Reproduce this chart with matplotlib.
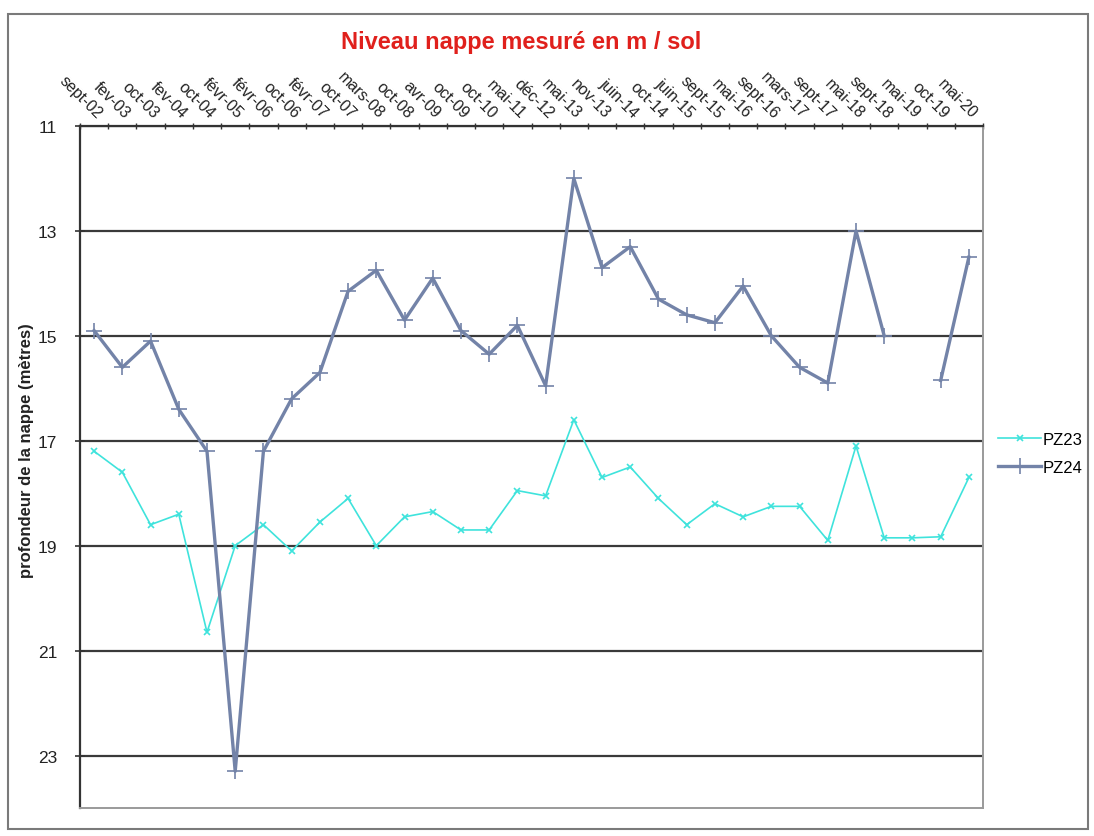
import matplotlib.pyplot as plt
import numpy as np
from matplotlib.patches import Rectangle

# categories (dates de mesure)
dates = ['sept-02', 'fev-03', 'oct-03', 'fev-04', 'oct-04', 'févr-05', 'févr-06',
         'oct-06', 'févr-07', 'oct-07', 'mars-08', 'oct-08', 'avr-09', 'oct-09',
         'oct-10', 'mai-11', 'déc-12', 'mai-13', 'nov-13', 'juin-14', 'oct-14',
         'juin-15', 'sept-15', 'mai-16', 'sept-16', 'mars-17', 'sept-17', 'mai-18',
         'sept-18', 'mai-19', 'oct-19', 'mai-20']

pz23 = [17.2, 17.6, 18.6, 18.4, 20.65, 19.0, 18.6, 19.1, 18.55, 18.1, 19.0,
        18.45, 18.35, 18.7, 18.7, 17.95, 18.05, 16.6, 17.7, 17.5, 18.1, 18.6,
        18.2, 18.45, 18.25, 18.25, 18.9, 17.1, 18.85, 18.85, 18.83, 17.7]

pz24 = [14.9, 15.6, 15.1, 16.4, 17.2, 23.3, 17.2, 16.2, 15.7, 14.15, 13.75,
        14.7, 13.9, 14.9, 15.35, 14.8, 15.95, 12.0, 13.7, 13.3, 14.3, 14.6,
        14.75, 14.05, 15.0, 15.6, 15.9, 13.0, 15.0, np.nan, 15.85, 13.5]

yticks = [11, 13, 15, 17, 19, 21, 23]

plt.rcParams['font.family'] = ['Liberation Sans', 'DejaVu Sans']

fig = plt.figure(figsize=(10.94, 8.37), dpi=100)
ax = fig.add_axes([80/1094, 1 - 809/837, 903/1094, 682/837])

x = np.arange(len(dates))
ax.plot(x, pz23, color='#3fe3dc', lw=1.2, marker='x', ms=5, mew=1.2, label='PZ23', zorder=3)
ax.plot(x, pz24, color='#7383a8', lw=2.4, marker='+', ms=11, mew=1.2, label='PZ24', zorder=4)

ax.set_xlim(-0.5, len(dates) - 0.5)
ax.set_ylim(24, 11)

# horizontal gridlines
ax.set_yticks(yticks)
ax.yaxis.grid(True, color='#3a3a3a', lw=1.6)
ax.set_axisbelow(True)
ax.tick_params(axis='y', direction='inout', length=7, width=1.2, color='#333333',
               labelsize=12.5, pad=13, labelcolor='#222222')

# category axis on top
ax.xaxis.tick_top()
ax.set_xticks(x)
ax.set_xticklabels(dates, rotation=-45, ha='right', va='bottom',
                   rotation_mode='anchor', fontsize=11.5, color='#222222')
ax.set_xticks(np.arange(-0.5, len(dates)), minor=True)
ax.tick_params(axis='x', which='major', length=0, pad=4)
ax.tick_params(axis='x', which='minor', direction='inout', length=5, width=1, color='#333333')

for s in ['top', 'left']:
    ax.spines[s].set_color('#333333')
    ax.spines[s].set_linewidth(1.6)
for s in ['right', 'bottom']:
    ax.spines[s].set_color('#9a9a9a')
    ax.spines[s].set_linewidth(1.4)

fig.text(521/1094, 1 - 43/837, 'Niveau nappe mesuré en m / sol', color='#e0201c',
         fontsize=17, fontweight='bold', ha='center', va='center')
fig.text(27/1094, 1 - 451/837, 'profondeur de la nappe (mètres)', rotation=90,
         fontsize=12, fontweight='bold', ha='center', va='center', color='#222222')

leg = ax.legend(loc='center left', bbox_to_anchor=(1.0, 0.52), frameon=False,
                fontsize=12, handlelength=2.6, handletextpad=0.1, labelspacing=0.8)

fig.patches.append(Rectangle((8/1094, 1 - 830/837), 1080/1094, 815/837,
                             transform=fig.transFigure, fill=False,
                             edgecolor='#7a7a7a', lw=1.5))

fig.savefig('out.png', dpi=100)
